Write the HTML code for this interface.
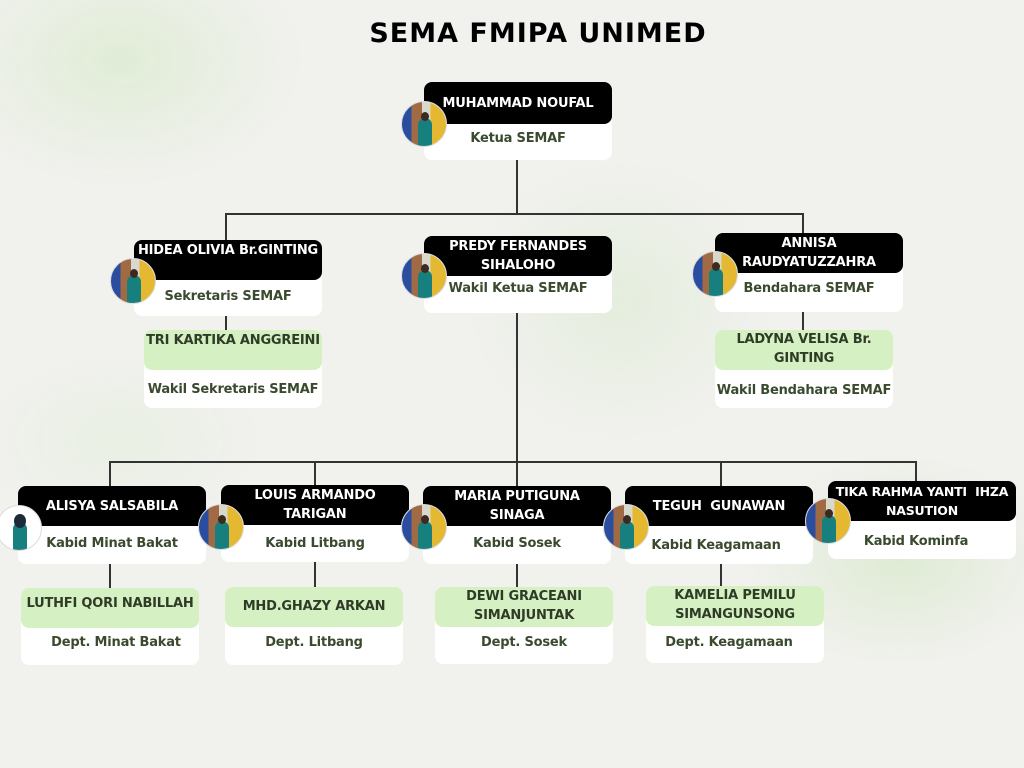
<!DOCTYPE html>
<html><head><meta charset="utf-8">
<style>
*{margin:0;padding:0;box-sizing:border-box}
body{width:1024px;height:768px;overflow:hidden;position:relative;font-family:"DejaVu Sans","Liberation Sans",sans-serif;
background:
radial-gradient(ellipse 260px 180px at 120px 60px,rgba(200,230,180,.4),transparent 70%),
radial-gradient(ellipse 220px 200px at 620px 300px,rgba(205,230,190,.35),transparent 70%),
radial-gradient(ellipse 220px 150px at 900px 560px,rgba(200,228,180,.45),transparent 70%),
radial-gradient(ellipse 200px 120px at 120px 440px,rgba(220,238,210,.4),transparent 70%),
#f1f1ee;}
.t{position:absolute;top:18px;left:0;width:1076px;text-align:center;font-size:27px;font-weight:900;letter-spacing:1px;color:#000;font-family:"DejaVu Sans","Liberation Sans",sans-serif}
.l{position:absolute;background:#333}
.w{position:absolute;background:#fff;border-radius:8px}
.h{position:absolute;background:#000;color:#fff;border-radius:8px;font-weight:bold;font-size:13px;text-align:center;display:flex;align-items:center;justify-content:center;line-height:19px;padding:0 2px;letter-spacing:-0.2px}
.g{position:absolute;background:#d5f1c3;color:#2f3b27;border-radius:8px;font-weight:bold;font-size:13px;text-align:center;line-height:19px;letter-spacing:-0.2px}
.s{position:absolute;color:#3a4a2e;font-weight:bold;font-size:13px;text-align:center;letter-spacing:-0.2px}
.p{position:absolute;width:46px;height:46px;border-radius:50%;overflow:hidden;
background:linear-gradient(90deg,#2a4da0 0 22%,#a06a45 22% 45%,#d8d8cc 45% 65%,#e4b830 65% 100%);border:1px solid #ddd}
.p::after{content:"";position:absolute;left:16px;top:16px;width:14px;height:30px;background:#17807f;border-radius:7px 7px 0 0}
.p::before{content:"";position:absolute;left:19px;top:10px;width:8px;height:9px;background:#3a2a20;border-radius:50%;z-index:1}
.p.wh{background:#fff}
.p.wh::before{background:#1d2a3a;width:12px;height:14px;left:17px;top:8px}
</style></head><body>
<div class="t">SEMA FMIPA UNIMED</div>

<div class="l" style="left:516px;top:160px;width:1.5px;height:54px"></div>
<div class="l" style="left:225px;top:213px;width:578px;height:1.5px"></div>
<div class="l" style="left:225px;top:213px;width:1.5px;height:28px"></div>
<div class="l" style="left:802px;top:213px;width:1.5px;height:22px"></div>
<div class="l" style="left:225px;top:316px;width:1.5px;height:15px"></div>
<div class="l" style="left:802px;top:312px;width:1.5px;height:19px"></div>
<div class="l" style="left:516px;top:313px;width:1.5px;height:174px"></div>
<div class="l" style="left:109px;top:461px;width:807px;height:1.5px"></div>
<div class="l" style="left:109px;top:461px;width:1.5px;height:26px"></div>
<div class="l" style="left:314px;top:461px;width:1.5px;height:26px"></div>
<div class="l" style="left:720px;top:461px;width:1.5px;height:26px"></div>
<div class="l" style="left:915px;top:461px;width:1.5px;height:22px"></div>
<div class="l" style="left:109px;top:564px;width:1.5px;height:25px"></div>
<div class="l" style="left:314px;top:562px;width:1.5px;height:26px"></div>
<div class="l" style="left:516px;top:564px;width:1.5px;height:24px"></div>
<div class="l" style="left:720px;top:564px;width:1.5px;height:23px"></div>

<div class="w" style="left:424px;top:82px;width:188px;height:78px"></div>
<div class="h" style="left:424px;top:82px;width:188px;height:42px">MUHAMMAD NOUFAL</div>
<div class="s" style="left:424px;top:131px;width:188px">Ketua SEMAF</div>
<div class="p" style="left:401px;top:101px"></div>

<div class="w" style="left:134px;top:240px;width:188px;height:76px"></div>
<div class="h" style="left:134px;top:240px;width:188px;height:40px;align-items:flex-start;padding-top:1px">HIDEA OLIVIA Br.GINTING</div>
<div class="s" style="left:134px;top:289px;width:188px">Sekretaris SEMAF</div>
<div class="p" style="left:110px;top:258px"></div>

<div class="w" style="left:424px;top:236px;width:188px;height:77px"></div>
<div class="h" style="left:424px;top:236px;width:188px;height:40px">PREDY FERNANDES<br>SIHALOHO</div>
<div class="s" style="left:424px;top:281px;width:188px">Wakil Ketua SEMAF</div>
<div class="p" style="left:401px;top:253px"></div>

<div class="w" style="left:715px;top:233px;width:188px;height:79px"></div>
<div class="h" style="left:715px;top:233px;width:188px;height:40px">ANNISA<br>RAUDYATUZZAHRA</div>
<div class="s" style="left:715px;top:281px;width:188px">Bendahara SEMAF</div>
<div class="p" style="left:692px;top:251px"></div>

<div class="w" style="left:144px;top:330px;width:178px;height:78px"></div>
<div class="g" style="left:144px;top:330px;width:178px;height:40px;padding-top:1px">TRI KARTIKA ANGGREINI</div>
<div class="s" style="left:134px;top:382px;width:198px">Wakil Sekretaris SEMAF</div>

<div class="w" style="left:715px;top:330px;width:178px;height:78px"></div>
<div class="g" style="left:715px;top:330px;width:178px;height:40px">LADYNA VELISA Br.<br>GINTING</div>
<div class="s" style="left:700px;top:383px;width:208px">Wakil Bendahara SEMAF</div>

<div class="w" style="left:18px;top:486px;width:188px;height:78px"></div>
<div class="h" style="left:18px;top:486px;width:188px;height:40px">ALISYA SALSABILA</div>
<div class="s" style="left:18px;top:536px;width:188px">Kabid Minat Bakat</div>
<div class="p wh" style="left:-4px;top:505px"></div>

<div class="w" style="left:221px;top:485px;width:188px;height:77px"></div>
<div class="h" style="left:221px;top:485px;width:188px;height:40px">LOUIS ARMANDO<br>TARIGAN</div>
<div class="s" style="left:221px;top:536px;width:188px">Kabid Litbang</div>
<div class="p" style="left:198px;top:504px"></div>

<div class="w" style="left:423px;top:486px;width:188px;height:78px"></div>
<div class="h" style="left:423px;top:486px;width:188px;height:40px">MARIA PUTIGUNA<br>SINAGA</div>
<div class="s" style="left:423px;top:536px;width:188px">Kabid Sosek</div>
<div class="p" style="left:401px;top:504px"></div>

<div class="w" style="left:625px;top:486px;width:188px;height:78px"></div>
<div class="h" style="left:625px;top:486px;width:188px;height:40px">TEGUH&nbsp; GUNAWAN</div>
<div class="s" style="left:622px;top:538px;width:188px">Kabid Keagamaan</div>
<div class="p" style="left:603px;top:504px"></div>

<div class="w" style="left:828px;top:481px;width:188px;height:78px"></div>
<div class="h" style="left:828px;top:481px;width:188px;height:40px;font-size:12.5px">TIKA RAHMA YANTI&nbsp; IHZA<br>NASUTION</div>
<div class="s" style="left:822px;top:534px;width:188px">Kabid Kominfa</div>
<div class="p" style="left:805px;top:498px"></div>

<div class="w" style="left:21px;top:588px;width:178px;height:77px"></div>
<div class="g" style="left:21px;top:588px;width:178px;height:40px;padding-top:6px">LUTHFI QORI NABILLAH</div>
<div class="s" style="left:27px;top:635px;width:178px">Dept. Minat Bakat</div>

<div class="w" style="left:225px;top:587px;width:178px;height:78px"></div>
<div class="g" style="left:225px;top:587px;width:178px;height:40px;padding-top:10px">MHD.GHAZY ARKAN</div>
<div class="s" style="left:225px;top:635px;width:178px">Dept. Litbang</div>

<div class="w" style="left:435px;top:587px;width:178px;height:77px"></div>
<div class="g" style="left:435px;top:587px;width:178px;height:40px">DEWI GRACEANI<br>SIMANJUNTAK</div>
<div class="s" style="left:435px;top:635px;width:178px">Dept. Sosek</div>

<div class="w" style="left:646px;top:586px;width:178px;height:77px"></div>
<div class="g" style="left:646px;top:586px;width:178px;height:40px">KAMELIA PEMILU<br>SIMANGUNSONG</div>
<div class="s" style="left:640px;top:635px;width:178px">Dept. Keagamaan</div>
</body></html>
